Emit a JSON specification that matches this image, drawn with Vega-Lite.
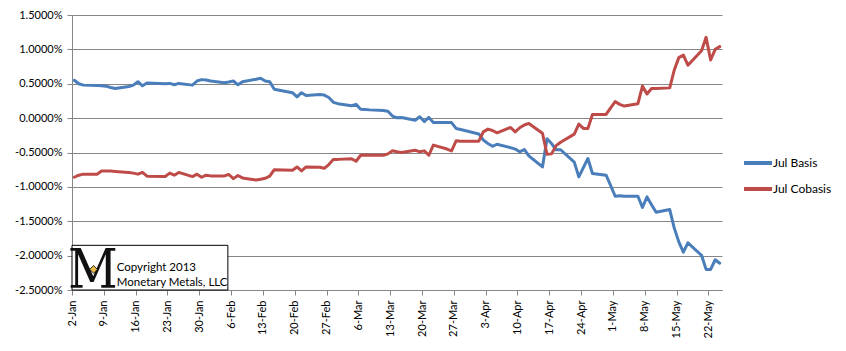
{
  "$schema": "https://vega.github.io/schema/vega-lite/v6.json",
  "width": 650,
  "height": 275,
  "autosize": "none",
  "padding": {"left": 72, "top": 15, "right": 124, "bottom": 61},
  "background": "white",
  "config": {
    "view": {"stroke": null},
    "font": "Lato",
    "axis": {"labelFont": "Lato", "labelFontSize": 11, "labelColor": "#000000", "domainColor": "#868686", "tickColor": "#868686", "gridColor": "#868686", "gridOpacity": 1, "domainWidth": 1, "tickWidth": 1, "gridWidth": 1},
    "legend": {"labelFont": "Lato", "labelFontSize": 12, "labelColor": "#000000"}
  },
  "data": {"values": [
    {"date": "2013-01-02T12:00:00", "Jul Basis": 0.55, "Jul Cobasis": -0.86},
    {"date": "2013-01-03T12:00:00", "Jul Basis": 0.50, "Jul Cobasis": -0.83},
    {"date": "2013-01-04T12:00:00", "Jul Basis": 0.48, "Jul Cobasis": -0.815},
    {"date": "2013-01-07T12:00:00", "Jul Basis": 0.475, "Jul Cobasis": -0.815},
    {"date": "2013-01-08T12:00:00", "Jul Basis": 0.47, "Jul Cobasis": -0.77},
    {"date": "2013-01-09T12:00:00", "Jul Basis": 0.465, "Jul Cobasis": -0.77},
    {"date": "2013-01-10T12:00:00", "Jul Basis": 0.445, "Jul Cobasis": -0.77},
    {"date": "2013-01-11T12:00:00", "Jul Basis": 0.43, "Jul Cobasis": -0.775},
    {"date": "2013-01-14T12:00:00", "Jul Basis": 0.46, "Jul Cobasis": -0.79},
    {"date": "2013-01-15T12:00:00", "Jul Basis": 0.48, "Jul Cobasis": -0.80},
    {"date": "2013-01-16T12:00:00", "Jul Basis": 0.53, "Jul Cobasis": -0.815},
    {"date": "2013-01-17T12:00:00", "Jul Basis": 0.47, "Jul Cobasis": -0.79},
    {"date": "2013-01-18T12:00:00", "Jul Basis": 0.51, "Jul Cobasis": -0.845},
    {"date": "2013-01-22T12:00:00", "Jul Basis": 0.50, "Jul Cobasis": -0.85},
    {"date": "2013-01-23T12:00:00", "Jul Basis": 0.505, "Jul Cobasis": -0.80},
    {"date": "2013-01-24T12:00:00", "Jul Basis": 0.485, "Jul Cobasis": -0.83},
    {"date": "2013-01-25T12:00:00", "Jul Basis": 0.505, "Jul Cobasis": -0.79},
    {"date": "2013-01-28T12:00:00", "Jul Basis": 0.48, "Jul Cobasis": -0.85},
    {"date": "2013-01-29T12:00:00", "Jul Basis": 0.54, "Jul Cobasis": -0.815},
    {"date": "2013-01-30T12:00:00", "Jul Basis": 0.56, "Jul Cobasis": -0.86},
    {"date": "2013-01-31T12:00:00", "Jul Basis": 0.555, "Jul Cobasis": -0.83},
    {"date": "2013-02-01T12:00:00", "Jul Basis": 0.54, "Jul Cobasis": -0.84},
    {"date": "2013-02-04T12:00:00", "Jul Basis": 0.515, "Jul Cobasis": -0.84},
    {"date": "2013-02-05T12:00:00", "Jul Basis": 0.525, "Jul Cobasis": -0.82},
    {"date": "2013-02-06T12:00:00", "Jul Basis": 0.54, "Jul Cobasis": -0.88},
    {"date": "2013-02-07T12:00:00", "Jul Basis": 0.485, "Jul Cobasis": -0.835},
    {"date": "2013-02-08T12:00:00", "Jul Basis": 0.53, "Jul Cobasis": -0.87},
    {"date": "2013-02-11T12:00:00", "Jul Basis": 0.565, "Jul Cobasis": -0.90},
    {"date": "2013-02-12T12:00:00", "Jul Basis": 0.58, "Jul Cobasis": -0.89},
    {"date": "2013-02-13T12:00:00", "Jul Basis": 0.54, "Jul Cobasis": -0.875},
    {"date": "2013-02-14T12:00:00", "Jul Basis": 0.53, "Jul Cobasis": -0.845},
    {"date": "2013-02-15T12:00:00", "Jul Basis": 0.42, "Jul Cobasis": -0.75},
    {"date": "2013-02-19T12:00:00", "Jul Basis": 0.37, "Jul Cobasis": -0.757},
    {"date": "2013-02-20T12:00:00", "Jul Basis": 0.31, "Jul Cobasis": -0.71},
    {"date": "2013-02-21T12:00:00", "Jul Basis": 0.37, "Jul Cobasis": -0.767},
    {"date": "2013-02-22T12:00:00", "Jul Basis": 0.33, "Jul Cobasis": -0.71},
    {"date": "2013-02-25T12:00:00", "Jul Basis": 0.345, "Jul Cobasis": -0.715},
    {"date": "2013-02-26T12:00:00", "Jul Basis": 0.335, "Jul Cobasis": -0.73},
    {"date": "2013-02-27T12:00:00", "Jul Basis": 0.30, "Jul Cobasis": -0.675},
    {"date": "2013-02-28T12:00:00", "Jul Basis": 0.23, "Jul Cobasis": -0.60},
    {"date": "2013-03-01T12:00:00", "Jul Basis": 0.21, "Jul Cobasis": -0.60},
    {"date": "2013-03-04T12:00:00", "Jul Basis": 0.18, "Jul Cobasis": -0.59},
    {"date": "2013-03-05T12:00:00", "Jul Basis": 0.20, "Jul Cobasis": -0.627},
    {"date": "2013-03-06T12:00:00", "Jul Basis": 0.13, "Jul Cobasis": -0.54},
    {"date": "2013-03-07T12:00:00", "Jul Basis": 0.125, "Jul Cobasis": -0.535},
    {"date": "2013-03-08T12:00:00", "Jul Basis": 0.12, "Jul Cobasis": -0.54},
    {"date": "2013-03-11T12:00:00", "Jul Basis": 0.11, "Jul Cobasis": -0.54},
    {"date": "2013-03-12T12:00:00", "Jul Basis": 0.10, "Jul Cobasis": -0.52},
    {"date": "2013-03-13T12:00:00", "Jul Basis": 0.03, "Jul Cobasis": -0.475},
    {"date": "2013-03-14T12:00:00", "Jul Basis": 0.005, "Jul Cobasis": -0.49},
    {"date": "2013-03-15T12:00:00", "Jul Basis": 0.01, "Jul Cobasis": -0.50},
    {"date": "2013-03-18T12:00:00", "Jul Basis": -0.03, "Jul Cobasis": -0.466},
    {"date": "2013-03-19T12:00:00", "Jul Basis": 0.02, "Jul Cobasis": -0.49},
    {"date": "2013-03-20T12:00:00", "Jul Basis": -0.05, "Jul Cobasis": -0.476},
    {"date": "2013-03-21T12:00:00", "Jul Basis": 0.01, "Jul Cobasis": -0.54},
    {"date": "2013-03-22T12:00:00", "Jul Basis": -0.063, "Jul Cobasis": -0.393},
    {"date": "2013-03-25T12:00:00", "Jul Basis": -0.065, "Jul Cobasis": -0.45},
    {"date": "2013-03-26T12:00:00", "Jul Basis": -0.065, "Jul Cobasis": -0.476},
    {"date": "2013-03-27T12:00:00", "Jul Basis": -0.15, "Jul Cobasis": -0.33},
    {"date": "2013-03-28T12:00:00", "Jul Basis": -0.165, "Jul Cobasis": -0.335},
    {"date": "2013-04-01T12:00:00", "Jul Basis": -0.23, "Jul Cobasis": -0.335},
    {"date": "2013-04-02T12:00:00", "Jul Basis": -0.32, "Jul Cobasis": -0.20},
    {"date": "2013-04-03T12:00:00", "Jul Basis": -0.37, "Jul Cobasis": -0.16},
    {"date": "2013-04-04T12:00:00", "Jul Basis": -0.41, "Jul Cobasis": -0.18},
    {"date": "2013-04-05T12:00:00", "Jul Basis": -0.38, "Jul Cobasis": -0.214},
    {"date": "2013-04-08T12:00:00", "Jul Basis": -0.43, "Jul Cobasis": -0.136},
    {"date": "2013-04-09T12:00:00", "Jul Basis": -0.45, "Jul Cobasis": -0.20},
    {"date": "2013-04-10T12:00:00", "Jul Basis": -0.49, "Jul Cobasis": -0.14},
    {"date": "2013-04-11T12:00:00", "Jul Basis": -0.456, "Jul Cobasis": -0.10},
    {"date": "2013-04-12T12:00:00", "Jul Basis": -0.55, "Jul Cobasis": -0.077},
    {"date": "2013-04-15T12:00:00", "Jul Basis": -0.71, "Jul Cobasis": -0.22},
    {"date": "2013-04-16T12:00:00", "Jul Basis": -0.30, "Jul Cobasis": -0.524},
    {"date": "2013-04-17T12:00:00", "Jul Basis": -0.37, "Jul Cobasis": -0.52},
    {"date": "2013-04-18T12:00:00", "Jul Basis": -0.46, "Jul Cobasis": -0.40},
    {"date": "2013-04-19T12:00:00", "Jul Basis": -0.46, "Jul Cobasis": -0.35},
    {"date": "2013-04-22T12:00:00", "Jul Basis": -0.64, "Jul Cobasis": -0.233},
    {"date": "2013-04-23T12:00:00", "Jul Basis": -0.855, "Jul Cobasis": -0.087},
    {"date": "2013-04-24T12:00:00", "Jul Basis": -0.72, "Jul Cobasis": -0.15},
    {"date": "2013-04-25T12:00:00", "Jul Basis": -0.587, "Jul Cobasis": -0.15},
    {"date": "2013-04-26T12:00:00", "Jul Basis": -0.805, "Jul Cobasis": 0.054},
    {"date": "2013-04-29T12:00:00", "Jul Basis": -0.83, "Jul Cobasis": 0.054},
    {"date": "2013-04-30T12:00:00", "Jul Basis": -0.98, "Jul Cobasis": 0.15},
    {"date": "2013-05-01T12:00:00", "Jul Basis": -1.136, "Jul Cobasis": 0.24},
    {"date": "2013-05-02T12:00:00", "Jul Basis": -1.13, "Jul Cobasis": 0.20},
    {"date": "2013-05-03T12:00:00", "Jul Basis": -1.135, "Jul Cobasis": 0.175},
    {"date": "2013-05-06T12:00:00", "Jul Basis": -1.136, "Jul Cobasis": 0.21},
    {"date": "2013-05-07T12:00:00", "Jul Basis": -1.30, "Jul Cobasis": 0.466},
    {"date": "2013-05-08T12:00:00", "Jul Basis": -1.146, "Jul Cobasis": 0.35},
    {"date": "2013-05-09T12:00:00", "Jul Basis": -1.26, "Jul Cobasis": 0.43},
    {"date": "2013-05-10T12:00:00", "Jul Basis": -1.37, "Jul Cobasis": 0.43},
    {"date": "2013-05-13T12:00:00", "Jul Basis": -1.33, "Jul Cobasis": 0.44},
    {"date": "2013-05-14T12:00:00", "Jul Basis": -1.60, "Jul Cobasis": 0.70},
    {"date": "2013-05-15T12:00:00", "Jul Basis": -1.80, "Jul Cobasis": 0.88},
    {"date": "2013-05-16T12:00:00", "Jul Basis": -1.95, "Jul Cobasis": 0.917},
    {"date": "2013-05-17T12:00:00", "Jul Basis": -1.815, "Jul Cobasis": 0.77},
    {"date": "2013-05-20T12:00:00", "Jul Basis": -1.995, "Jul Cobasis": 0.98},
    {"date": "2013-05-21T12:00:00", "Jul Basis": -2.20, "Jul Cobasis": 1.175},
    {"date": "2013-05-22T12:00:00", "Jul Basis": -2.20, "Jul Cobasis": 0.845},
    {"date": "2013-05-23T12:00:00", "Jul Basis": -2.06, "Jul Cobasis": 1.0},
    {"date": "2013-05-24T12:00:00", "Jul Basis": -2.11, "Jul Cobasis": 1.04}
  ]},
  "layer": [
    {
      "transform": [{"fold": ["Jul Basis", "Jul Cobasis"], "as": ["series", "value"]}],
      "mark": {"type": "line", "strokeWidth": 3, "strokeJoin": "round", "strokeCap": "round"},
      "encoding": {
        "x": {"field": "date", "type": "temporal",
          "scale": {"domain": [{"year": 2013, "month": 1, "date": 2}, {"year": 2013, "month": 5, "date": 25}]},
          "axis": {"title": null, "grid": false, "format": "%-d-%b", "labelAngle": -90, "tickSize": 5, "labelPadding": 5,
            "labelOverlap": false, "tickCount": 40,
            "values": [
              {"year": 2013, "month": 1, "date": 2}, {"year": 2013, "month": 1, "date": 9}, {"year": 2013, "month": 1, "date": 16},
              {"year": 2013, "month": 1, "date": 23}, {"year": 2013, "month": 1, "date": 30}, {"year": 2013, "month": 2, "date": 6},
              {"year": 2013, "month": 2, "date": 13}, {"year": 2013, "month": 2, "date": 20}, {"year": 2013, "month": 2, "date": 27},
              {"year": 2013, "month": 3, "date": 6}, {"year": 2013, "month": 3, "date": 13}, {"year": 2013, "month": 3, "date": 20},
              {"year": 2013, "month": 3, "date": 27}, {"year": 2013, "month": 4, "date": 3}, {"year": 2013, "month": 4, "date": 10},
              {"year": 2013, "month": 4, "date": 17}, {"year": 2013, "month": 4, "date": 24}, {"year": 2013, "month": 5, "date": 1},
              {"year": 2013, "month": 5, "date": 8}, {"year": 2013, "month": 5, "date": 15}, {"year": 2013, "month": 5, "date": 22}
            ]}},
        "y": {"field": "value", "type": "quantitative",
          "scale": {"domain": [-2.5, 1.5], "nice": false, "zero": false},
          "axis": {"title": null, "grid": true, "tickSize": 5, "labelPadding": 5, "labelOverlap": false, "tickCount": 20,
            "values": [-2.5, -2, -1.5, -1, -0.5, 0, 0.5, 1, 1.5],
            "labelExpr": "(datum.value < 0 ? '-' : '') + format(abs(datum.value), '.4f') + '%'"}},
        "color": {"field": "series", "type": "nominal",
          "scale": {"domain": ["Jul Basis", "Jul Cobasis"], "range": ["#4A7EBB", "#BE4B48"]},
          "legend": {"title": null, "orient": "none", "legendX": 670, "legendY": 132, "symbolType": "stroke", "symbolSize": 784, "symbolStrokeWidth": 4, "labelOffset": -1, "rowPadding": 2}}
      }
    },
    {
      "data": {"values": [{}]},
      "mark": {"type": "rect", "fill": "white", "stroke": "#000000", "strokeWidth": 1},
      "encoding": {
        "x": {"datum": {"year": 2013, "month": 1, "date": 2}, "type": "temporal"},
        "x2": {"datum": {"year": 2013, "month": 2, "date": 5, "hours": 7}},
        "y": {"datum": -2.5},
        "y2": {"datum": -1.85}
      }
    },
    {
      "data": {"values": [{}]},
      "mark": {"type": "text", "text": "M", "font": "DejaVu Serif Condensed", "fontSize": 54, "fontWeight": "normal", "align": "center", "baseline": "alphabetic", "color": "#111111"},
      "encoding": {
        "x": {"datum": {"year": 2013, "month": 1, "date": 6, "hours": 14}, "type": "temporal"},
        "y": {"datum": -2.47}
      }
    },
    {
      "data": {"values": [{}]},
      "mark": {"type": "point", "shape": "diamond", "filled": true, "fill": "#E8B84A", "stroke": "#000000", "strokeWidth": 0.8, "size": 60, "opacity": 1},
      "encoding": {
        "x": {"datum": {"year": 2013, "month": 1, "date": 6, "hours": 18}, "type": "temporal"},
        "y": {"datum": -2.2}
      }
    },
    {
      "data": {"values": [{}]},
      "mark": {"type": "text", "text": "Copyright 2013", "font": "Lato", "fontSize": 11.5, "align": "left", "baseline": "middle", "color": "#000000"},
      "encoding": {
        "x": {"datum": {"year": 2013, "month": 1, "date": 11, "hours": 20}, "type": "temporal"},
        "y": {"datum": -2.184}
      }
    },
    {
      "data": {"values": [{}]},
      "mark": {"type": "text", "text": "Monetary Metals, LLC", "font": "Lato", "fontSize": 11.5, "align": "left", "baseline": "middle", "color": "#000000"},
      "encoding": {
        "x": {"datum": {"year": 2013, "month": 1, "date": 11, "hours": 20}, "type": "temporal"},
        "y": {"datum": -2.40}
      }
    }
  ]
}
